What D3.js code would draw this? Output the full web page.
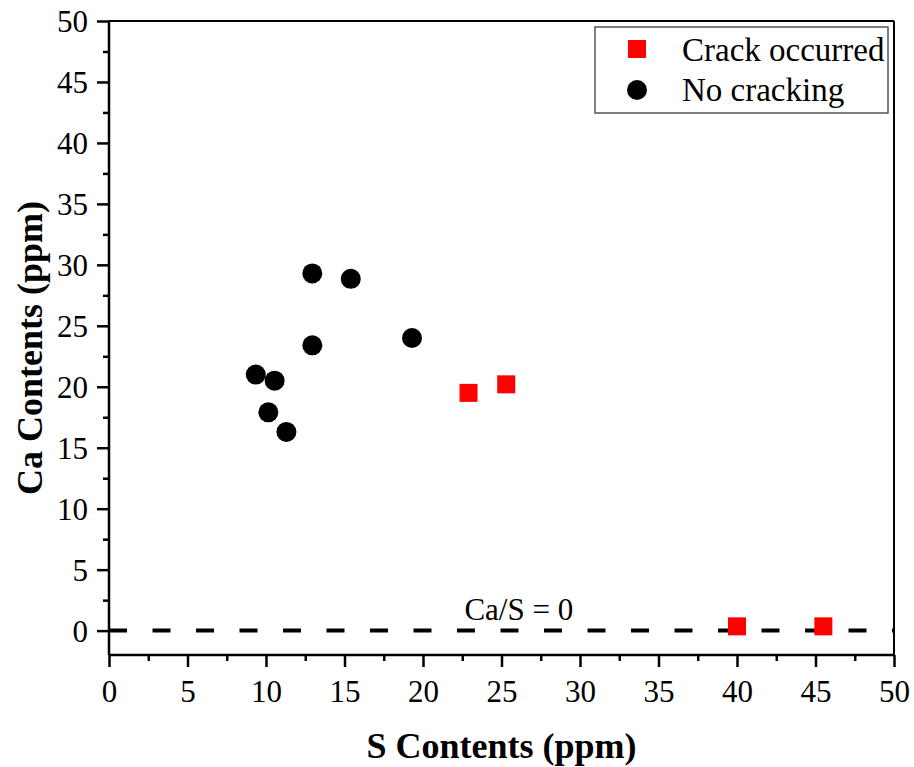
<!DOCTYPE html>
<html><head><meta charset="utf-8">
<script src="https://cdn.jsdelivr.net/npm/d3@7"></script>
<style>body{margin:0;background:#fff}svg{display:block}</style>
</head><body>
<script>
const crackS = [22.9, 25.3, 40.0, 45.5];
const crackCa = [19.5, 20.2, 0.35, 0.35];
const noCrackS = [12.95, 15.4, 19.3, 12.95, 9.35, 10.55, 10.15, 11.3];
const noCrackCa = [29.3, 28.85, 24.0, 23.4, 21.0, 20.5, 17.9, 16.3];
const xTicks = [0,5,10,15,20,25,30,35,40,45,50];
const yTicks = [0,5,10,15,20,25,30,35,40,45,50];

const FF='"Liberation Serif","Times New Roman",Times,serif';
const W=914,H=767;
const m={l:109,r:20,t:21,b:112};
const svg=d3.select("body").append("svg").attr("width",W).attr("height",H);
const x=d3.scaleLinear().domain([0,50]).range([m.l,W-m.r]);
const y=d3.scaleLinear().domain([-2,50]).range([H-m.b,m.t]);

// frame top/right
svg.append("line").attr("x1",x(0)).attr("x2",x(50)).attr("y1",y(50)).attr("y2",y(50)).attr("stroke","#000").attr("stroke-width",2);
svg.append("line").attr("x1",x(50)).attr("x2",x(50)).attr("y1",y(50)).attr("y2",y(-2)).attr("stroke","#000").attr("stroke-width",2);

const minorX=d3.range(2.5,50,5), minorY=d3.range(2.5,50,5);
const gx=svg.append("g").attr("transform",`translate(0,${y(-2)})`);
gx.call(d3.axisBottom(x).tickValues(minorX).tickSize(6).tickFormat(""));
gx.call(g=>g.selectAll(".domain").remove());
const gx2=svg.append("g").attr("transform",`translate(0,${y(-2)})`)
  .call(d3.axisBottom(x).tickValues(xTicks).tickSize(12).tickPadding(8).tickFormat(d3.format("d")));
const gy=svg.append("g").attr("transform",`translate(${x(0)},0)`);
gy.call(d3.axisLeft(y).tickValues(minorY).tickSize(6).tickFormat(""));
gy.call(g=>g.selectAll(".domain").remove());
const gy2=svg.append("g").attr("transform",`translate(${x(0)},0)`)
  .call(d3.axisLeft(y).tickValues(yTicks).tickSize(12).tickPadding(9).tickFormat(d3.format("d")));
svg.selectAll("g").attr("font-family",null);
svg.selectAll(".domain").attr("stroke-width",2.5);
svg.selectAll(".tick line").attr("stroke-width",2.5);
svg.selectAll(".tick text").style("font-family",FF).style("font-size","31px").attr("fill","#000");
gx2.selectAll(".tick text").attr("dy",null).attr("y",47);
gy2.selectAll(".tick text").attr("dy","0.34em");
gx2.select(".domain").attr("d",`M${x(0)},0H${x(50)}`);
gy2.select(".domain").attr("d",`M0,${y(-2)}V${y(50)}`);

// dashed line
svg.append("line").attr("x1",x(0)).attr("x2",x(50)).attr("y1",y(0)).attr("y2",y(0))
  .attr("stroke","#000").attr("stroke-width",4).attr("stroke-dasharray","18,25.5");
svg.append("text").attr("x",x(26.1)).attr("y",y(0)-11).attr("text-anchor","middle").style("font-family",FF).style("font-size","31px").text("Ca/S = 0");

// points
const nc=noCrackS.map((s,i)=>({s,c:noCrackCa[i]}));
const cr=crackS.map((s,i)=>({s,c:crackCa[i]}));
svg.selectAll(".nc").data(nc).join("circle").attr("cx",d=>x(d.s)).attr("cy",d=>y(d.c)).attr("r",10).attr("fill","#000");
svg.selectAll(".cr").data(cr).join("rect").attr("x",d=>x(d.s)-9).attr("y",d=>y(d.c)-9).attr("width",18).attr("height",18).attr("fill","#ff0000");

// legend
const lg=svg.append("g");
lg.append("rect").attr("x",595).attr("y",27).attr("width",293).attr("height",86).attr("fill","#fff").attr("stroke","#555").attr("stroke-width",1.5);
lg.append("rect").attr("x",628).attr("y",40).attr("width",18).attr("height",18).attr("fill","#ff0000");
lg.append("circle").attr("cx",637).attr("cy",90).attr("r",10).attr("fill","#000");
lg.append("text").attr("x",682).attr("y",61).style("font-family",FF).style("font-size","33px").text("Crack occurred");
lg.append("text").attr("x",682).attr("y",101).style("font-family",FF).style("font-size","33px").text("No cracking");

// axis titles
svg.append("text").attr("x",(x(0)+x(50))/2).attr("y",758).attr("text-anchor","middle").style("font-family",FF).style("font-size","36px").style("font-weight","bold").text("S Contents (ppm)");
svg.append("text").attr("transform",`translate(42,348) rotate(-90)`).attr("text-anchor","middle").style("font-family",FF).style("font-size","36px").style("font-weight","bold").text("Ca Contents (ppm)");
</script>
</body></html>
